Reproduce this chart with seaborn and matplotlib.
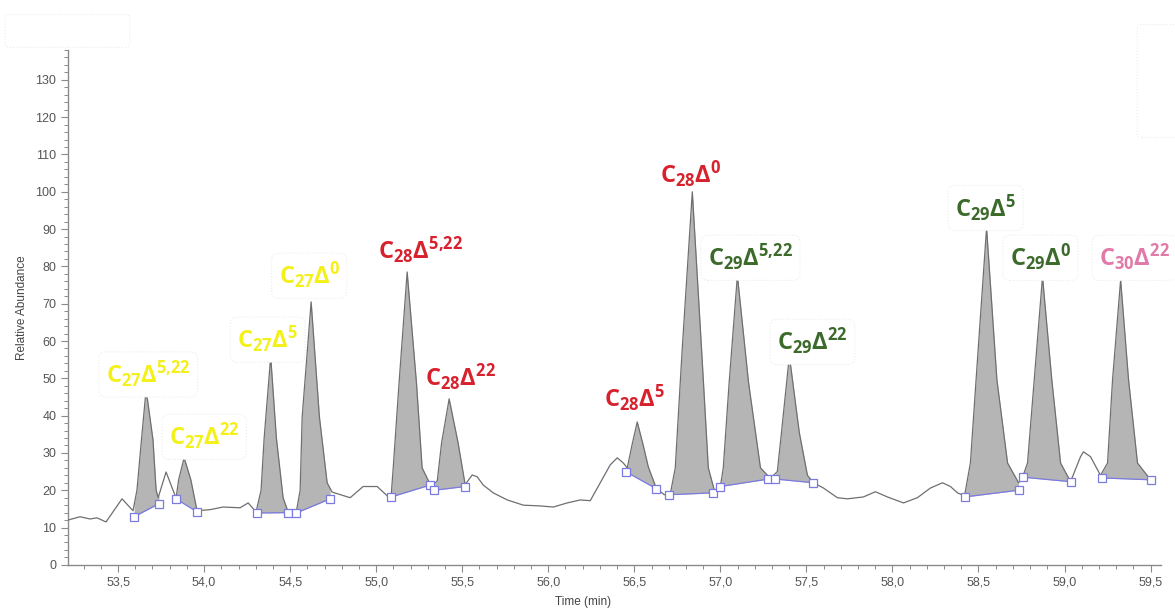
import matplotlib
matplotlib.use("Agg")
import matplotlib.pyplot as plt
import matplotlib.ticker as mticker
from matplotlib.patches import FancyBboxPatch
import numpy as np
import pandas as pd
import seaborn as sns

### Chromatogram trace
time_min = [53.209, 53.279, 53.337, 53.378, 53.430, 53.523, 53.587, 53.610, 53.636, 53.663,
            53.703, 53.721, 53.733, 53.779, 53.837, 53.852, 53.884, 53.923, 53.959, 54.035,
            54.110, 54.209, 54.256, 54.302, 54.331, 54.349, 54.387, 54.420, 54.459, 54.488,
            54.535, 54.558, 54.570, 54.622, 54.670, 54.715, 54.744, 54.849, 54.924, 55.006,
            55.064, 55.087, 55.099, 55.133, 55.180, 55.234, 55.267, 55.320, 55.355, 55.380,
            55.424, 55.476, 55.517, 55.558, 55.587, 55.622, 55.680, 55.762, 55.855, 55.953,
            56.029, 56.110, 56.186, 56.244, 56.302, 56.360, 56.401, 56.436, 56.459, 56.486,
            56.517, 56.552, 56.581, 56.628, 56.674, 56.709, 56.738, 56.778, 56.837, 56.891,
            56.930, 56.965, 57.000, 57.017, 57.051, 57.099, 57.164, 57.233, 57.291, 57.331,
            57.355, 57.401, 57.459, 57.506, 57.541, 57.599, 57.680, 57.738, 57.831, 57.901,
            57.971, 58.064, 58.145, 58.221, 58.291, 58.337, 58.378, 58.419, 58.453, 58.486,
            58.547, 58.607, 58.669, 58.733, 58.756, 58.785, 58.824, 58.872, 58.926, 58.977,
            59.035, 59.093, 59.110, 59.151, 59.209, 59.250, 59.279, 59.326, 59.372, 59.424,
            59.500]
rel_abund = [12.0, 12.9, 12.3, 12.6, 11.5, 17.7, 14.5, 20.1, 33.5, 47.0,
             33.5, 20.1, 18.0, 24.9, 17.9, 22.8, 28.7, 22.8, 14.5, 14.8,
             15.5, 15.3, 16.6, 14.2, 20.0, 34.0, 55.8, 34.0, 18.0, 14.2,
             14.0, 20.0, 39.7, 70.5, 39.7, 22.0, 19.5, 18.0, 21.0, 21.0,
             18.5, 18.5, 26.0, 48.8, 78.5, 48.8, 26.0, 21.0, 22.5, 32.7,
             44.5, 32.7, 21.5, 24.1, 23.6, 21.4, 19.3, 17.4, 16.0, 15.8,
             15.5, 16.6, 17.4, 17.2, 22.0, 26.8, 28.7, 27.3, 26.0, 32.0,
             38.3, 32.0, 26.3, 20.5, 18.8, 19.0, 26.0, 57.6, 100.0, 57.6,
             26.0, 20.0, 21.0, 26.0, 48.8, 77.5, 48.8, 26.0, 23.2, 25.0,
             35.4, 56.0, 35.4, 24.0, 22.0, 20.6, 18.0, 17.7, 18.2, 19.6,
             18.2, 16.6, 18.0, 20.6, 22.0, 21.0, 19.3, 18.5, 27.3, 49.6,
             90.3, 49.6, 27.3, 22.0, 23.5, 27.3, 49.6, 77.2, 49.6, 27.3,
             22.3, 29.0, 30.3, 29.0, 24.0, 27.3, 49.6, 76.4, 49.6, 27.3,
             22.8]

### Integrated peaks: window and baseline level at each end
peak_start = [53.593, 53.837, 54.308, 54.535, 55.087, 55.337, 56.453, 56.703, 57.000, 57.320, 58.419, 58.756, 59.215]
peak_end = [53.738, 53.959, 54.488, 54.733, 55.314, 55.517, 56.628, 56.959, 57.279, 57.541, 58.733, 59.035, 59.500]
base_start = [12.9, 17.7, 13.9, 13.9, 18.2, 20.0, 24.9, 18.8, 21.0, 23.0, 18.2, 23.5, 23.3]
base_end = [16.4, 14.2, 14.0, 17.7, 21.4, 21.0, 20.4, 19.3, 23.0, 22.0, 20.0, 22.3, 22.8]

carbon = ["27", "27", "27", "27", "28", "28", "28", "28", "29", "29", "29", "29", "30"]
delta = ["5,22", "22", "5", "0", "5,22", "22", "5", "0", "5,22", "22", "5", "0", "22"]

# label offset from the apex, in pixels
label_dx = [2, 20, -3, -2, 13, 11, -3, -2, 13, 23, -1, -2, 14]
label_dy = [15, 21, 17, 26, 22, 21, 24, 17, 18, 14, 20, 19, 22]

group_colors = {"27": "#f4f01a", "28": "#d7222e", "29": "#3b6a2a", "30": "#e07aa8"}
boxed = {"27": True, "28": False, "29": True, "30": True}

sns.set_style("ticks")
plt.rcParams['font.family'] = ['Liberation Sans', 'DejaVu Sans']
plt.rcParams['mathtext.fontset'] = 'custom'
plt.rcParams['mathtext.rm'] = 'Open Sans'
plt.rcParams['mathtext.bf'] = 'Open Sans:bold'

df = pd.DataFrame({"time": time_min, "abund": rel_abund})

fig = plt.figure(figsize=(11.75, 6.1), dpi=100)
ax = fig.add_axes([0.058, 0.074, 0.930, 0.844])

t_arr = np.array(time_min)
a_arr = np.array(rel_abund)

for i in range(len(peak_start)):
    tt = np.linspace(peak_start[i], peak_end[i], 300)
    yy = np.interp(tt, t_arr, a_arr)
    bl = np.interp(tt, [peak_start[i], peak_end[i]], [base_start[i], base_end[i]])
    ax.fill_between(tt, bl, yy, color="#b5b5b5", lw=0, zorder=1)

sns.lineplot(data=df, x="time", y="abund", color="#6f6f6f", lw=0.9, ax=ax, zorder=3)

for i in range(len(peak_start)):
    ax.plot([peak_start[i], peak_end[i]], [base_start[i], base_end[i]],
            color="#7a7ae0", lw=0.9, zorder=4)
    ax.plot([peak_start[i], peak_end[i]], [base_start[i], base_end[i]], ls="none",
            marker="s", ms=5.5, mfc="white", mec="#7a7ae0", mew=0.9, zorder=5)

    # apex of the peak inside the window
    mask = (t_arr >= peak_start[i]) & (t_arr <= peak_end[i])
    k = np.argmax(np.where(mask, a_arr, -1))
    lab = r"$\mathbf{C_{%s}\Delta^{%s}}$" % (carbon[i], delta[i].replace(",", "{,}"))
    bbox = None
    if boxed[carbon[i]]:
        bbox = dict(boxstyle="round,pad=0.3", fc="white", ec="#ececec", ls=":", lw=0.8)
    ax.annotate(lab, xy=(t_arr[k], a_arr[k]), xytext=(label_dx[i], label_dy[i]),
                textcoords="offset pixels", ha="center", va="center", fontsize=17,
                color=group_colors[carbon[i]], bbox=bbox, annotation_clip=False,
                zorder=6)

ax.set_xlim(53.21, 59.56)
ax.set_ylim(0, 138)
ax.xaxis.set_major_locator(mticker.MultipleLocator(0.5))
ax.xaxis.set_minor_locator(mticker.MultipleLocator(0.1))
ax.yaxis.set_major_locator(mticker.MultipleLocator(10))
ax.yaxis.set_minor_locator(mticker.MultipleLocator(2))
ax.xaxis.set_major_formatter(mticker.FuncFormatter(lambda v, p: f"{v:.1f}".replace(".", ",")))
ax.yaxis.set_major_formatter(mticker.FuncFormatter(lambda v, p: f"{v:.0f}"))

sns.despine(ax=ax)
for s in ["left", "bottom"]:
    ax.spines[s].set_color("#8a8a8a")
    ax.spines[s].set_linewidth(1.0)
ax.tick_params(which="major", length=5, width=0.8, color="#8a8a8a", labelsize=9, labelcolor="#555555")
ax.tick_params(which="minor", length=3, width=0.7, color="#8a8a8a")

ax.set_xlabel("Time (min)", fontsize=8.5, color="#444444")
ax.set_ylabel("Relative Abundance", fontsize=8.5, color="#444444")
ax.xaxis.set_label_coords(0.4716, -0.060)
ax.yaxis.set_label_coords(-0.037, 0.5)

# faint empty boxes left over in the screenshot corners
fig.patches.append(FancyBboxPatch((10 / 1175, 1 - 45 / 610), 115 / 1175, 28 / 610,
                                  boxstyle="round,pad=0.004", fc="white", ec="#ececec",
                                  ls=":", lw=0.8, transform=fig.transFigure, figure=fig))
fig.patches.append(FancyBboxPatch((1142 / 1175, 1 - 135 / 610), 40 / 1175, 108 / 610,
                                  boxstyle="round,pad=0.004", fc="white", ec="#ececec",
                                  ls=":", lw=0.8, transform=fig.transFigure, figure=fig))

fig.savefig("out.png", dpi=100)
